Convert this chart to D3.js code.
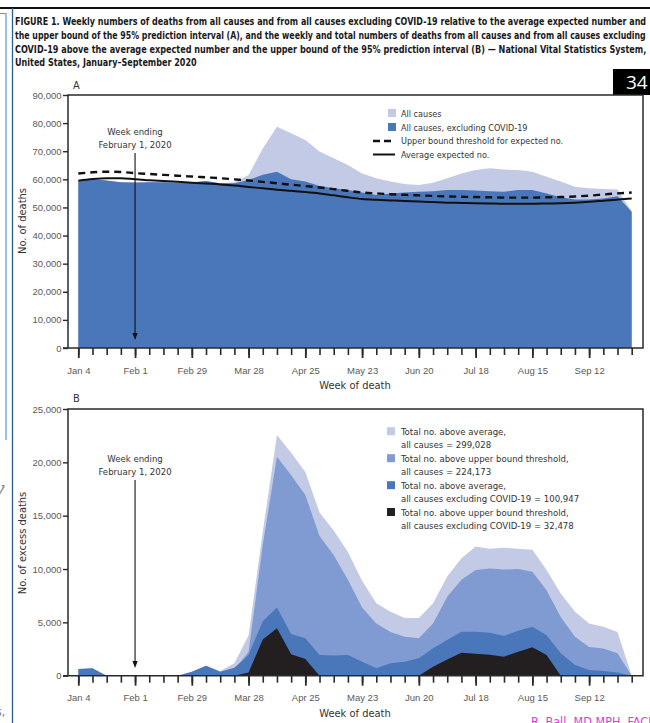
<!DOCTYPE html>
<html>
<head>
<meta charset="utf-8">
<script src="https://cdn.jsdelivr.net/npm/d3@7"></script>
<style>
  body { margin: 0; background: #fff; }
  svg { display: block; font-family: "Liberation Sans Narrow", "DejaVu Sans Condensed", "Liberation Sans", sans-serif; }
</style>
</head>
<body>
<svg id="fig" width="650" height="723"></svg>
<script>
// Week-ending dates, 2020
const weekEnding = [
  "2020-01-04","2020-01-11","2020-01-18","2020-01-25","2020-02-01","2020-02-08","2020-02-15","2020-02-22",
  "2020-02-29","2020-03-07","2020-03-14","2020-03-21","2020-03-28","2020-04-04","2020-04-11","2020-04-18",
  "2020-04-25","2020-05-02","2020-05-09","2020-05-16","2020-05-23","2020-05-30","2020-06-06","2020-06-13",
  "2020-06-20","2020-06-27","2020-07-04","2020-07-11","2020-07-18","2020-07-25","2020-08-01","2020-08-08",
  "2020-08-15","2020-08-22","2020-08-29","2020-09-05","2020-09-12","2020-09-19","2020-09-26","2020-10-03"
];
const labeledWeeks = ["2020-01-04","2020-02-01","2020-02-29","2020-03-28","2020-04-25","2020-05-23",
                      "2020-06-20","2020-07-18","2020-08-15","2020-09-12"];

// Panel A: weekly deaths
const allCauses = [59200,60000,59600,59000,58900,59000,59000,58800,58900,59400,58600,59000,61500,71000,78700,76400,
                   74000,69900,67500,65100,62100,60400,59200,58300,58000,58800,60400,62100,63300,63900,63500,63300,
                   62700,60900,59200,57400,56800,56600,56400,48500];
const allCausesExclCovid = [59200,60000,59600,59000,58900,59000,59000,58800,58900,59400,58600,58600,59800,61600,62700,60000,
                   59200,57600,56800,56200,55300,54400,55000,55300,55600,55800,56200,56200,56000,55800,55600,56200,
                   56200,55000,53600,52800,52800,53200,54000,48500];
const averageExpected = [59500,60100,60400,60400,60000,59700,59400,59100,58800,58500,58200,57800,57300,56800,56300,55900,
                   55500,55000,54300,53600,53000,52700,52500,52300,52100,51900,51700,51600,51500,51400,51300,51300,
                   51300,51400,51500,51700,52000,52400,52800,53200];
const upperBound = [62100,62500,62700,62600,62200,61900,61600,61300,61000,60700,60400,60000,59600,59100,58600,58100,
                   57600,57100,56500,55900,55300,55000,54700,54500,54300,54100,53900,53800,53700,53600,53500,53500,
                   53500,53600,53700,53900,54200,54600,55000,55300];
const yTicksA = [0,10000,20000,30000,40000,50000,60000,70000,80000,90000];

// Panel B: weekly excess deaths
const aboveAvgAll = [630,690,0,0,0,0,0,0,375,940,450,1160,3800,13500,22560,20900,
                   19100,15300,13600,11600,8900,6800,6000,5400,5400,6800,9300,11000,12100,11900,12000,11900,
                   11800,9900,7700,6000,4900,4600,4100,0];
const aboveUpperAll = [0,0,0,0,0,0,0,0,0,0,0,530,2250,12250,20530,18800,
                   16940,13100,11300,9000,6400,4900,4100,3650,3500,4900,7400,9000,9900,10050,9950,10000,
                   9750,8000,5500,3650,2700,2550,2100,0];
const aboveAvgExcl = [630,690,0,0,0,0,0,0,375,940,375,750,1940,5100,6400,3900,
                   3500,1940,1900,1940,1300,690,1160,1310,1630,2570,3350,4130,4130,4030,3720,4220,
                   4600,3800,2100,1000,530,440,290,0];
const aboveUpperExcl = [0,0,0,0,0,0,0,0,0,0,0,0,310,3400,4440,2000,
                   1560,0,0,0,0,0,0,0,0,845,1530,2160,2060,1970,1780,2250,
                   2660,1940,0,0,0,0,0,0];
const yTicksB = [0,5000,10000,15000,20000,25000];

const titleLines = [
  "FIGURE 1. Weekly numbers of deaths from all causes and from all causes excluding COVID-19 relative to the average expected number and",
  "the upper bound of the 95% prediction interval (A), and the weekly and total numbers of deaths from all causes and from all causes excluding",
  "COVID-19 above the average expected number and the upper bound of the 95% prediction interval (B) \u2014 National Vital Statistics System,",
  "United States, January\u2013September 2020"
];
const legendA = ["All causes", "All causes, excluding COVID-19", "Upper bound threshold for expected no.", "Average expected no."];
const legendB = [
  ["Total no. above average,", "all causes = 299,028"],
  ["Total no. above upper bound threshold,", "all causes = 224,173"],
  ["Total no. above average,", "all causes excluding COVID-19 = 100,947"],
  ["Total no. above upper bound threshold,", "all causes excluding COVID-19 = 32,478"]
];

const C = {
  light: "#c3cae6",
  mid: "#7f9bd1",
  blue: "#4a76ba",
  black: "#231f20",
  axis: "#2a2a2a",
  tickText: "#5a5a5a",
  text: "#333"
};

const parse = d3.utcParse("%Y-%m-%d");
const dates = weekEnding.map(parse);
const svg = d3.select("#fig");

// ---- page furniture ----
svg.append("rect").attr("x", 0).attr("y", 0).attr("width", 650).attr("height", 723).attr("fill", "#fff");
svg.append("line").attr("x1", 0).attr("x2", 650).attr("y1", 8).attr("y2", 8)
  .attr("stroke", "#111").attr("stroke-width", 2.2);
svg.append("line").attr("x1", 12.5).attr("x2", 12.5).attr("y1", 8).attr("y2", 723)
  .attr("stroke", "#2f5a8c").attr("stroke-width", 1.3);
svg.append("path").attr("d", "M0,13.5H6V440").attr("fill", "none")
  .attr("stroke", "#5b9bd0").attr("stroke-width", 1.2);
svg.append("text").attr("x", -7).attr("y", 497).attr("font-size", 26).attr("font-style", "italic")
  .attr("fill", "#8a8a8a").attr("font-family", "Liberation Serif, serif").text("y");
svg.append("text").attr("x", -4).attr("y", 716).attr("font-size", 12)
  .attr("fill", "#777").text("s,");

// title: each line squeezed horizontally to its column width
const title = svg.append("g").attr("font-weight", "bold").attr("font-size", 11).attr("fill", "#1a1a1a");
const titleY = [25, 39, 53, 66];
titleLines.forEach((t, i) => {
  const el = title.append("text").text(t);
  const natural = el.node().getComputedTextLength();
  const target = i < 3 ? 632 : 182;
  el.attr("transform", `translate(15,${titleY[i]}) scale(${target / natural},1)`);
});

// page number tab
svg.append("rect").attr("x", 613).attr("y", 69).attr("width", 40).attr("height", 26).attr("fill", "#000");
svg.append("text").attr("x", 626).attr("y", 89).attr("font-size", 19).attr("fill", "#fff")
  .attr("font-family", "Open Sans, sans-serif").text("34");

// ---- shared x scale ----
const FL = 68, FR = 643;
const x = d3.scaleUtc().domain([dates[0], dates[dates.length - 1]]).range([78.3, 631.7]);
const fmt = d3.utcFormat("%b %-d");

function xAxis(g, y0) {
  g.append("g").attr("transform", `translate(0,${y0})`)
    .call(d3.axisBottom(x).tickValues(dates).tickSize(7).tickFormat(""))
    .call(a => a.select(".domain").remove())
    .call(a => a.selectAll("line").attr("stroke", C.axis).attr("stroke-width", 1.6));
  g.append("g").attr("transform", `translate(0,${y0})`)
    .call(d3.axisBottom(x).tickValues(labeledWeeks.map(parse)).tickSize(10).tickPadding(9).tickFormat(fmt))
    .call(a => a.select(".domain").remove())
    .call(a => a.selectAll("line").attr("stroke", C.axis).attr("stroke-width", 1.8))
    .call(a => a.selectAll("text").attr("fill", C.tickText).attr("font-size", 9.5)
      .attr("font-family", null));
  g.append("text").attr("x", 355).attr("y", y0 + 41).attr("text-anchor", "middle")
    .attr("font-size", 11).attr("fill", C.text).text("Week of death");
}

function yAxis(g, y, ticks) {
  g.append("g").attr("transform", `translate(${FL},0)`)
    .call(d3.axisLeft(y).tickValues(ticks).tickSize(5).tickPadding(1.5).tickFormat(d3.format(",")))
    .call(a => a.select(".domain").remove())
    .call(a => a.selectAll("line").attr("stroke", C.axis).attr("stroke-width", 1.4))
    .call(a => a.selectAll("text").attr("fill", C.tickText).attr("font-size", 9.5)
      .attr("font-family", null));
}

function frame(g, top, bottom) {
  g.append("path")
    .attr("d", `M${FL},${bottom}V${top}H${FR}V${bottom}H${FL - 5}`)
    .attr("fill", "none").attr("stroke", C.axis).attr("stroke-width", 1.5);
}

function arrow(g, x0, y0, y1) {
  g.append("line").attr("x1", x0).attr("x2", x0).attr("y1", y0).attr("y2", y1 - 6)
    .attr("stroke", "#111").attr("stroke-width", 1.1);
  g.append("path").attr("d", `M${x0 - 2.6},${y1 - 7}L${x0},${y1}L${x0 + 2.6},${y1 - 7}Z`).attr("fill", "#111");
}

function areaOf(y, vals) {
  return d3.area().x((d, i) => x(dates[i])).y0(y(0)).y1(d => y(d))(vals);
}

// ---- Panel A ----
const A = svg.append("g");
const yA = d3.scaleLinear().domain([0, 90000]).range([348, 95]);
A.append("path").attr("d", areaOf(yA, allCauses)).attr("fill", C.light);
A.append("path").attr("d", areaOf(yA, allCausesExclCovid)).attr("fill", C.blue);
const lineA = d3.line().x((d, i) => x(dates[i])).y(d => yA(d)).curve(d3.curveMonotoneX);
A.append("path").attr("d", lineA(averageExpected)).attr("fill", "none")
  .attr("stroke", "#111").attr("stroke-width", 2);
A.append("path").attr("d", lineA(upperBound)).attr("fill", "none")
  .attr("stroke", "#111").attr("stroke-width", 2.4).attr("stroke-dasharray", "7,5");
frame(A, 95, 348);
yAxis(A, yA, yTicksA);
xAxis(A, 348);
A.append("text").attr("x", 73).attr("y", 89).attr("font-size", 11).attr("fill", C.text).text("A");
A.append("text").attr("transform", "translate(26,221) rotate(-90)").attr("text-anchor", "middle")
  .attr("font-size", 11).attr("fill", C.text).text("No. of deaths");
const feb1 = x(parse("2020-02-01"));
A.append("text").attr("x", feb1).attr("y", 135).attr("text-anchor", "middle")
  .attr("font-size", 9.5).attr("fill", C.text).text("Week ending");
A.append("text").attr("x", feb1).attr("y", 148).attr("text-anchor", "middle")
  .attr("font-size", 9.5).attr("fill", C.text).text("February 1, 2020");
arrow(A, feb1, 153, 340);

// legend A
const lgA = A.append("g").attr("font-size", 9).attr("fill", C.text);
const lgAy = [113.5, 127.5, 141, 154.5];
lgA.append("rect").attr("x", 388).attr("y", lgAy[0] - 4.5).attr("width", 8).attr("height", 8).attr("fill", C.light);
lgA.append("rect").attr("x", 388).attr("y", lgAy[1] - 4.5).attr("width", 8).attr("height", 8).attr("fill", C.blue);
lgA.append("line").attr("x1", 373).attr("x2", 395).attr("y1", lgAy[2]).attr("y2", lgAy[2])
  .attr("stroke", "#111").attr("stroke-width", 2.4).attr("stroke-dasharray", "7,4");
lgA.append("line").attr("x1", 373).attr("x2", 395).attr("y1", lgAy[3]).attr("y2", lgAy[3])
  .attr("stroke", "#111").attr("stroke-width", 2);
legendA.forEach((t, i) => lgA.append("text").attr("x", 401).attr("y", lgAy[i] + 3.2).text(t));

// ---- Panel B ----
const B = svg.append("g");
const yB = d3.scaleLinear().domain([0, 25000]).range([675.7, 409]);
B.append("path").attr("d", areaOf(yB, aboveAvgAll)).attr("fill", C.light);
B.append("path").attr("d", areaOf(yB, aboveUpperAll)).attr("fill", C.mid);
B.append("path").attr("d", areaOf(yB, aboveAvgExcl)).attr("fill", C.blue);
B.append("path").attr("d", areaOf(yB, aboveUpperExcl)).attr("fill", C.black);
frame(B, 409, 675.7);
yAxis(B, yB, yTicksB);
xAxis(B, 675.7);
B.append("text").attr("x", 73).attr("y", 402).attr("font-size", 11).attr("fill", C.text).text("B");
B.append("text").attr("transform", "translate(26,543) rotate(-90)").attr("text-anchor", "middle")
  .attr("font-size", 11).attr("fill", C.text).text("No. of excess deaths");
B.append("text").attr("x", feb1).attr("y", 462).attr("text-anchor", "middle")
  .attr("font-size", 9.5).attr("fill", C.text).text("Week ending");
B.append("text").attr("x", feb1).attr("y", 475).attr("text-anchor", "middle")
  .attr("font-size", 9.5).attr("fill", C.text).text("February 1, 2020");
arrow(B, feb1, 480, 668);

// legend B
const lgB = B.append("g").attr("font-size", 9.5).attr("fill", C.text);
const swB = [C.light, C.mid, C.blue, C.black];
const lgBy = [431.7, 458.7, 485.7, 512.5];
legendB.forEach((pair, i) => {
  lgB.append("rect").attr("x", 387).attr("y", lgBy[i] - 4.5).attr("width", 8).attr("height", 8).attr("fill", swB[i]);
  lgB.append("text").attr("x", 401).attr("y", lgBy[i] + 3.3).text(pair[0]);
  lgB.append("text").attr("x", 401).attr("y", lgBy[i] + 16.5).text(pair[1]);
});

// signature line at the foot of the page
svg.append("text").attr("x", 531).attr("y", 726).attr("font-size", 12.5).attr("fill", "#e03ad8")
  .text("R. Ball, MD MPH, FACP");
</script>
</body>
</html>
